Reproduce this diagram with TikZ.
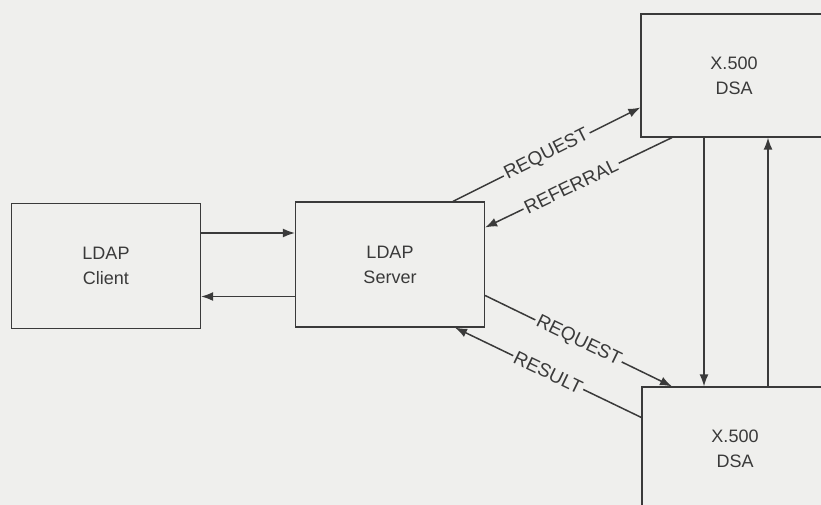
\documentclass[tikz,border=0pt]{standalone}
\usepackage{fontspec}
\setmainfont{Liberation Sans}
\usetikzlibrary{arrows.meta, positioning}
\definecolor{pagebg}{HTML}{EFEFED}
\definecolor{ink}{HTML}{3A3A3A}
\tikzset{
  % scatola di un componente
  box/.style={draw=ink, line width=1.2pt, minimum width=189pt, minimum height=125pt,
    align=center, font=\fontsize{18}{25}\selectfont, text=ink},
  % scatola di un DSA (tagliata dal bordo)
  dsabox/.style={box, minimum width=186pt, minimum height=123pt},
  % freccia di un messaggio
  msg/.style={-{Latex[length=12pt, width=9pt]}, line width=1.5pt, ink},
  % etichetta sulla freccia
  lbl/.style={font=\fontsize{19}{22}\selectfont, text=ink, fill=pagebg, inner sep=2pt, sloped},
}

\begin{document}
\begin{tikzpicture}[x=1pt, y=-1pt]
  \fill[pagebg] (0,0) rectangle (821,505);
  \useasboundingbox (0,0) rectangle (821,505);
  \clip (0,0) rectangle (821,505);
  \node[box] (client) at (106,266) {LDAP\\Client};
  \node[box] (server) at (390,264.5) {LDAP\\Server};
  \node[dsabox] (dsaup) at (734,75.5) {X.500\\DSA};
  \node[dsabox] (dsadown) at (735,448.5) {X.500\\DSA};
  \draw[msg] ([yshift=33pt]client.east) -- ([yshift=33pt]client.east -| server.west);
  \draw[msg] ([yshift=-32pt]server.west) -- ([yshift=-32pt]server.west -| client.east);
  \draw[msg] ([xshift=63pt]server.north) -- node[lbl] {REQUEST} ([yshift=-32pt]dsaup.west);
  \draw[msg] ([xshift=-62pt]dsaup.south) -- node[lbl, pos=0.54] {REFERRAL} ([yshift=37pt]server.east);
  \draw[msg] ([yshift=-31pt]server.east) -- node[lbl] {REQUEST} ([xshift=-63pt]dsadown.north);
  \draw[msg] ([yshift=31pt]dsadown.west) -- node[lbl] {RESULT} ([xshift=65pt]server.south);
  \draw[msg] ([xshift=-30pt]dsaup.south) -- ([xshift=-30pt]dsaup.south |- dsadown.north);
  \draw[msg] ([xshift=33pt]dsadown.north) -- ([xshift=33pt]dsadown.north |- dsaup.south);
\end{tikzpicture}
\end{document}
